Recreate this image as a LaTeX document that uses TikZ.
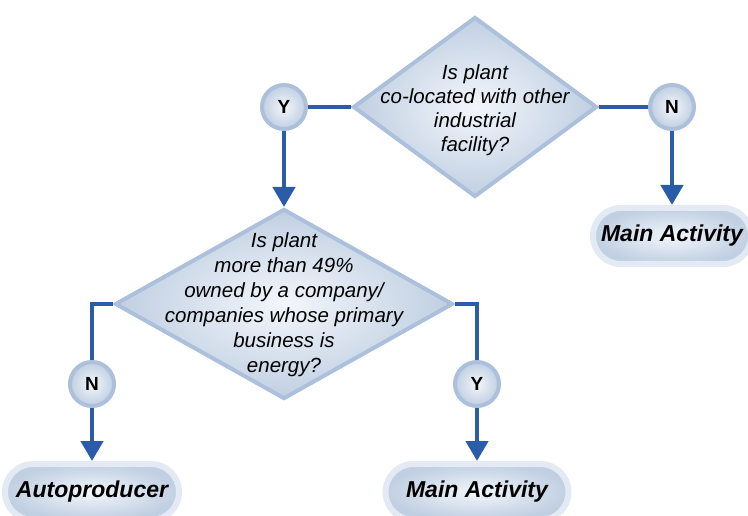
\documentclass[tikz,border=0pt]{standalone}
\usepackage{fontspec}
\setmainfont{Liberation Sans}
\usetikzlibrary{shapes.geometric,arrows.meta}
\definecolor{linkblue}{RGB}{42,92,170}
\definecolor{rimblue}{RGB}{172,192,220}
\definecolor{haloblue}{RGB}{228,234,243}
\definecolor{paleblue}{RGB}{243,246,251}
\definecolor{dullblue}{RGB}{192,207,226}
\tikzset{
  question/.style = {shape=diamond, draw=rimblue, line width=4pt,
                     inner sep=0pt,
                     inner color=paleblue, outer color=dullblue},
  qtext/.style    = {align=center,
                     font=\fontsize{20.5}{24}\selectfont\itshape},
  answer/.style   = {shape=circle, draw=rimblue, line width=4pt,
                     minimum size=44pt, inner sep=0pt,
                     inner color=paleblue, outer color=dullblue,
                     font=\fontsize{19}{19}\selectfont\bfseries},
  result/.style   = {shape=rectangle, rounded corners=28pt,
                     draw=haloblue, line width=6pt,
                     minimum height=56pt, inner sep=0pt,
                     inner color=paleblue, outer color=dullblue,
                     font=\fontsize{23}{23}\selectfont\bfseries\itshape},
  link/.style     = {draw=linkblue, line width=4.5pt},
  arrow/.style    = {link, -{Triangle[width=22pt,length=20pt]}},
}

\begin{document}
\begin{tikzpicture}[x=1pt, y=-1pt]
  \clip (0,0) rectangle (748,516);
  % questions
  \node[question, minimum width=244pt, minimum height=180pt] (q1) at (475,107) {};
  \node[qtext] (q1text) at (475,110)
    {Is plant\\co-located with other\\industrial\\facility?};
  \node[question, minimum width=338pt, minimum height=190pt] (q2) at (284,304) {};
  \node[qtext, font=\fontsize{20.5}{25}\selectfont\itshape] (q2text) at (284,304.5)
    {Is plant\\more than 49\%\\owned by a company/\\companies whose primary\\business is\\energy?};
  % answers
  \node[answer] (yes1) at (284,107) {Y};
  \node[answer] (no1)  at (672,107) {N};
  \node[answer] (no2)  at (92,384)  {N};
  \node[answer] (yes2) at (477,384) {Y};
  % results
  \node[result, minimum width=158pt] (res1) at (672,236) {Main Activity};
  \node[result, minimum width=174pt] (res2) at (92,492)  {Autoproducer};
  \node[result, minimum width=183pt] (res3) at (477,492) {Main Activity};
  % connectors
  \draw[link]  (q1.west) -- (yes1);
  \draw[link]  (q1.east) -- (no1);
  \draw[arrow] (no1) -- (res1);
  \draw[arrow] (yes1) -- (q2.north);
  \draw[link]  (q2.west) -| (no2);
  \draw[link]  (q2.east) -| (yes2);
  \draw[arrow] (no2) -- (res2);
  \draw[arrow] (yes2) -- (res3);
\end{tikzpicture}
\end{document}
